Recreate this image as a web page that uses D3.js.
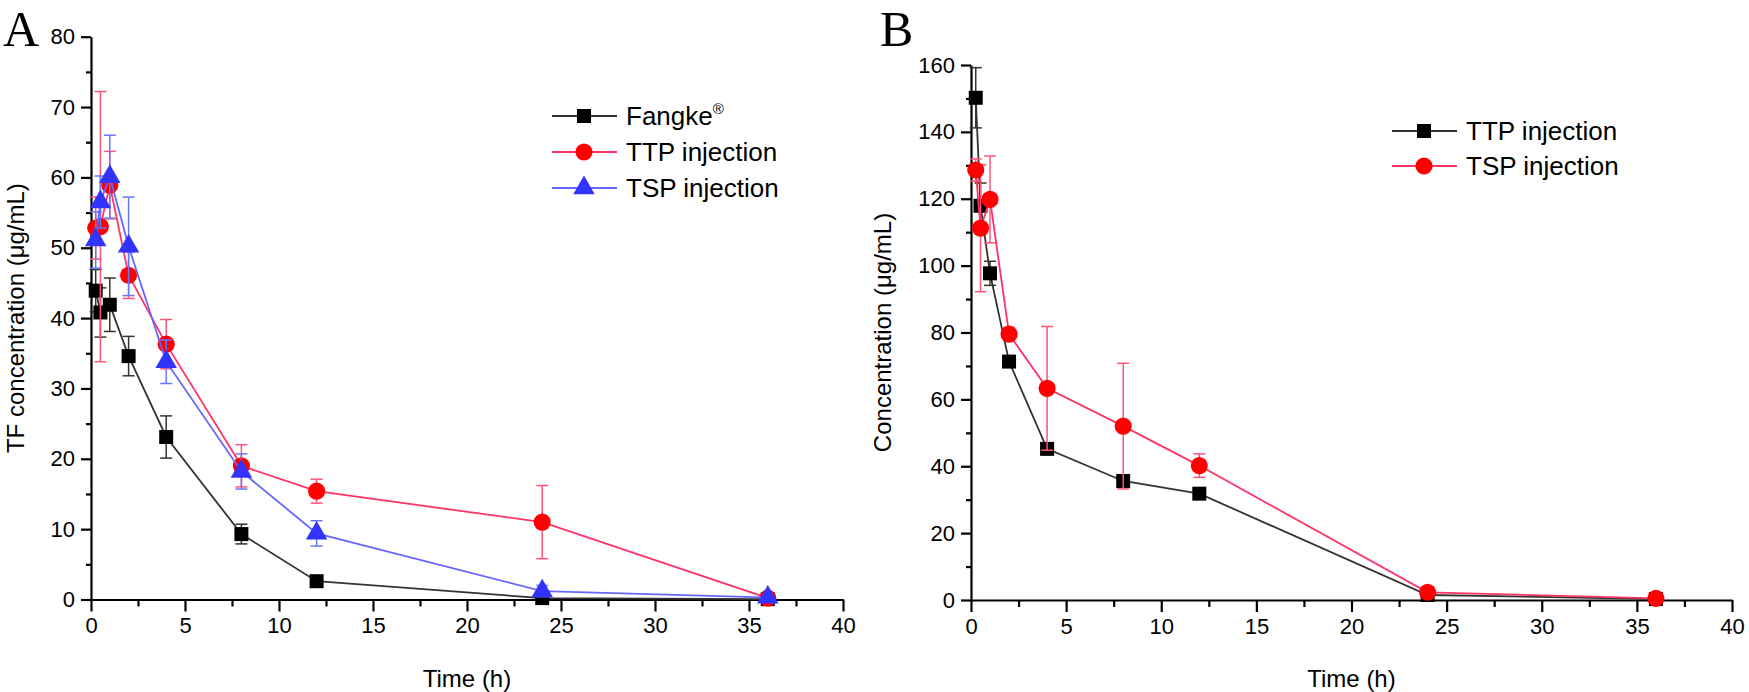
<!DOCTYPE html>
<html>
<head>
<meta charset="utf-8">
<script src="https://cdn.jsdelivr.net/npm/d3@7"></script>
<style>
  body { margin: 0; background: #fff; }
  svg { font-family: Arial, "Liberation Sans", sans-serif; }
</style>
</head>
<body>
<svg width="1749" height="692"></svg>
<script>
var svg = d3.select("svg");

// sampling times (h)
var times = [0.25, 0.5, 1, 2, 4, 8, 12, 24, 36];

// panel A
var fangkeMean = [43.9, 40.8, 41.9, 34.6, 23.1, 9.3, 2.6, 0.2, 0.05];
var fangkeSd   = [3.0, 3.5, 3.8, 2.8, 3.0, 1.4, 0.4, 0.1, 0.05];
var ttpAMean   = [52.8, 53.0, 58.9, 46.1, 36.3, 19.0, 15.4, 11.0, 0.2];
var ttpASd     = [4.4, 19.2, 4.8, 3.3, 3.5, 3.0, 1.7, 5.2, 0.1];
var tspAMean   = [51.1, 56.5, 60.1, 50.2, 33.8, 18.2, 9.4, 1.2, 0.3];
var tspASd     = [4.0, 3.7, 5.9, 7.0, 3.1, 2.5, 1.8, 0.8, 0.1];

// panel B
var ttpBMean = [150.2, 117.9, 97.7, 71.3, 45.2, 35.6, 31.8, 1.5, 0.3];
var ttpBSd   = [9.0, 6.8, 3.6, 1.0, 1.0, 1.5, 1.0, 0.3, 0.1];
var tspBMean = [128.6, 111.2, 119.8, 79.5, 63.3, 52.0, 40.2, 2.3, 0.5];
var tspBSd   = [3.3, 19.0, 13.0, 2.0, 18.5, 18.8, 3.5, 0.3, 0.1];

var xTicks = [0, 5, 10, 15, 20, 25, 30, 35, 40];
var yTicksA = [0, 10, 20, 30, 40, 50, 60, 70, 80];
var yTicksB = [0, 20, 40, 60, 80, 100, 120, 140, 160];

var black = { line: "#333", mark: "#000", err: "#333" };
var red   = { line: "#ff3366", mark: "#ff0000", err: "#ff5577" };
var blue  = { line: "#6666ff", mark: "#3333ff", err: "#6677ff" };

function drawPanel(opt) {
  var x = d3.scaleLinear().domain([0, 40]).range([opt.left, opt.right]);
  var y = d3.scaleLinear().domain([0, opt.ymax]).range([opt.bottom, opt.top]);
  var g = svg.append("g");

  // axes, major + minor ticks
  var minorX = d3.range(2.5, 40, 5);
  var minorY = d3.range(opt.ymax / 16, opt.ymax, opt.ymax / 8);

  g.append("g").attr("transform", "translate(0," + opt.bottom + ")")
    .call(d3.axisBottom(x).tickValues(xTicks).tickSize(12).tickPadding(6).tickSizeOuter(0));
  g.append("g").attr("transform", "translate(0," + opt.bottom + ")")
    .call(d3.axisBottom(x).tickValues(minorX).tickSize(7).tickFormat("").tickSizeOuter(0))
    .select(".domain").remove();

  g.append("g").attr("transform", "translate(" + opt.left + ",0)")
    .call(d3.axisLeft(y).tickValues(opt.yTicks).tickSize(10).tickPadding(6).tickSizeOuter(0));
  g.append("g").attr("transform", "translate(" + opt.left + ",0)")
    .call(d3.axisLeft(y).tickValues(minorY).tickSize(5).tickFormat("").tickSizeOuter(0))
    .select(".domain").remove();

  g.selectAll(".domain, .tick line").attr("stroke", "#000").attr("stroke-width", 2.2);
  g.selectAll(".tick text").attr("font-size", 22).attr("fill", "#000")
    .style("font-family", "Arial, 'Liberation Sans', sans-serif");

  g.append("text")
    .attr("x", (opt.left + opt.right) / 2).attr("y", 687)
    .attr("text-anchor", "middle").attr("font-size", 24)
    .text("Time (h)");

  g.append("text")
    .attr("transform", "translate(" + opt.titleX + "," + ((opt.top + opt.bottom) / 2) + ") rotate(-90)")
    .attr("text-anchor", "middle").attr("font-size", 24)
    .text(opt.yTitle);

  g.append("text")
    .attr("x", opt.labelX).attr("y", 46)
    .style("font-family", "'Liberation Serif', 'DejaVu Serif', serif")
    .attr("font-size", 50)
    .text(opt.label);

  // series
  opt.series.forEach(function(s) {
    var pts = times.map(function(t, i) { return { t: t, m: s.mean[i], sd: s.sd[i] }; });
    var sg = g.append("g");

    // error bars
    pts.forEach(function(p) {
      var cx = x(p.t);
      sg.append("line").attr("x1", cx).attr("x2", cx)
        .attr("y1", y(p.m - p.sd)).attr("y2", y(p.m + p.sd))
        .attr("stroke", s.c.err).attr("stroke-width", 1.5);
      [p.m - p.sd, p.m + p.sd].forEach(function(v) {
        sg.append("line").attr("x1", cx - 6).attr("x2", cx + 6)
          .attr("y1", y(v)).attr("y2", y(v))
          .attr("stroke", s.c.err).attr("stroke-width", 1.5);
      });
    });

    sg.append("path").datum(pts)
      .attr("fill", "none").attr("stroke", s.c.line).attr("stroke-width", 1.8)
      .attr("d", d3.line().x(function(p) { return x(p.t); }).y(function(p) { return y(p.m); }));

    sg.selectAll(".mk").data(pts).enter().append("path")
      .attr("transform", function(p) { return "translate(" + x(p.t) + "," + y(p.m) + ")"; })
      .attr("d", d3.symbol().type(s.sym).size(s.size))
      .attr("fill", s.c.mark);
  });

  // legend
  opt.series.forEach(function(s, i) {
    var ly = opt.legY + i * opt.legStep;
    g.append("line").attr("x1", opt.legX).attr("x2", opt.legX + 65)
      .attr("y1", ly).attr("y2", ly).attr("stroke", s.c.line).attr("stroke-width", 1.8);
    g.append("path").attr("transform", "translate(" + (opt.legX + 32) + "," + ly + ")")
      .attr("d", d3.symbol().type(s.sym).size(s.size)).attr("fill", s.c.mark);
    var t = g.append("text").attr("x", opt.legX + 74).attr("y", ly + 9).attr("font-size", 26);
    t.append("tspan").text(s.name);
    if (s.sup) t.append("tspan").attr("dy", -11).attr("font-size", 15).text(s.sup);
  });
}

drawPanel({
  left: 91, right: 843, top: 36.7, bottom: 599.5, ymax: 80, yTicks: yTicksA,
  yTitle: "TF concentration (\u03bcg/mL)", titleX: 24, label: "A", labelX: 3,
  legX: 552, legY: 116, legStep: 36,
  series: [
    { name: "Fangke", sup: "\u00ae", mean: fangkeMean, sd: fangkeSd, c: black, sym: d3.symbolSquare, size: 196 },
    { name: "TTP injection", mean: ttpAMean, sd: ttpASd, c: red, sym: d3.symbolCircle, size: 230 },
    { name: "TSP injection", mean: tspAMean, sd: tspASd, c: blue, sym: d3.symbolTriangle, size: 200 }
  ]
});

drawPanel({
  left: 971, right: 1732, top: 65, bottom: 600, ymax: 160, yTicks: yTicksB,
  yTitle: "Concentration (\u03bcg/mL)", titleX: 891, label: "B", labelX: 880,
  legX: 1392, legY: 131, legStep: 35,
  series: [
    { name: "TTP injection", mean: ttpBMean, sd: ttpBSd, c: black, sym: d3.symbolSquare, size: 196 },
    { name: "TSP injection", mean: tspBMean, sd: tspBSd, c: red, sym: d3.symbolCircle, size: 230 }
  ]
});
</script>
</body>
</html>
